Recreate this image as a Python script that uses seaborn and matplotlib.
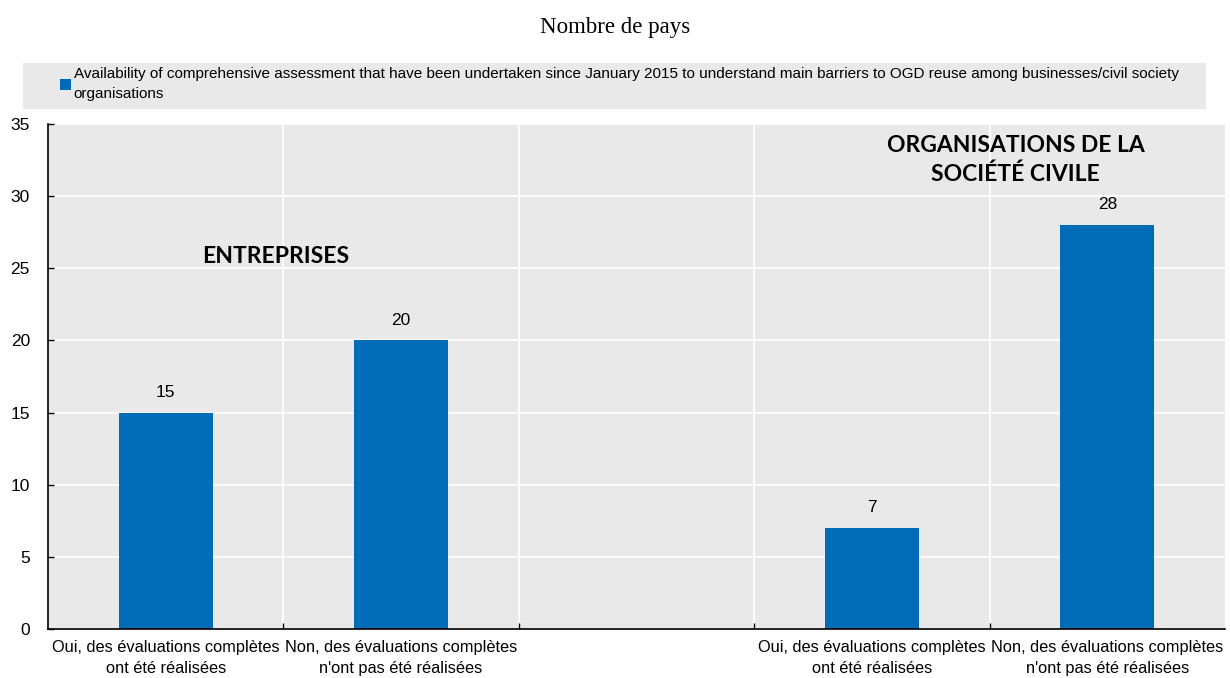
import numpy as np
import pandas as pd
import matplotlib
matplotlib.use("Agg")
import matplotlib.pyplot as plt
from matplotlib.patches import Rectangle
import seaborn as sns

# Data
slots = ["ent_oui", "ent_non", "gap", "soc_oui", "soc_non"]
values = [15, 20, np.nan, 7, 28]
tick_labels = [
    "Oui, des évaluations complètes\nont été réalisées",
    "Non, des évaluations complètes\nn'ont pas été réalisées",
    "",
    "Oui, des évaluations complètes\nont été réalisées",
    "Non, des évaluations complètes\nn'ont pas été réalisées",
]
series_name = ("Availability of comprehensive assessment that have been undertaken since January 2015 "
               "to understand main barriers to OGD reuse among businesses/civil society\norganisations")
group_labels = ["ENTREPRISES", "ORGANISATIONS DE LA\nSOCIÉTÉ CIVILE"]

BLUE = "#006BB6"
BG = "#E9E9E9"
W, H = 1230, 678

sns.set_theme(style="white")
plt.rcParams["font.family"] = ["Liberation Sans", "DejaVu Sans"]

df = pd.DataFrame({"slot": slots, "value": values})

fig = plt.figure(figsize=(W / 100, H / 100), dpi=100)

# Grey band behind the legend
fig.patches.append(Rectangle((23 / W, 1 - 109 / H), (1206 - 23) / W, 46 / H,
                             transform=fig.transFigure, facecolor=BG, edgecolor="none", zorder=-1))

ax = fig.add_axes([48 / W, 1 - 629 / H, 1177 / W, 505 / H])
ax.set_facecolor(BG)

sns.barplot(data=df, x="slot", y="value", order=slots, color=BLUE, width=0.4,
            saturation=1, linewidth=0, ax=ax, label=series_name)

ax.set_xlim(-0.5, 4.5)
ax.set_ylim(0, 35)
ax.set_yticks(range(0, 36, 5))
ax.set_xticks(range(5))
ax.set_xticklabels(tick_labels, fontsize=11.75, color="black", linespacing=1.45)
ax.tick_params(axis="x", which="major", length=0, pad=8)
ax.set_xticks(np.arange(0.5, 4.5, 1), minor=True)
ax.tick_params(axis="x", which="minor", length=4, direction="in", color="black", width=1, bottom=True)
ax.tick_params(axis="y", length=4, direction="in", color="black", width=1, labelsize=12.5,
               labelcolor="black", left=True, pad=13)
ax.set_xlabel("")
ax.set_ylabel("")

# Grid: white horizontal lines and vertical slot separators
for yv in range(5, 36, 5):
    ax.axhline(yv, color="white", lw=1.2, zorder=0.5)
for xv in np.arange(0.5, 4.5, 1):
    ax.axvline(xv, color="white", lw=1.2, zorder=0.5)
ax.set_axisbelow(True)

for side in ["top", "right"]:
    ax.spines[side].set_visible(False)
for side in ["left", "bottom"]:
    ax.spines[side].set_visible(True)
    ax.spines[side].set_color("black")
    ax.spines[side].set_linewidth(1.2)

# Value labels
for i, v in enumerate(values):
    if not np.isnan(v):
        ax.text(i, v + 1.4, f"{v:g}", ha="center", va="center", fontsize=12.5, color="black")

# Group annotations
ax.text(0.466, 25.83, group_labels[0], ha="center", va="center", fontsize=16.5,
        fontweight="bold", family=["Lato", "DejaVu Sans"], color="black")
ax.text(3.61, 32.5, group_labels[1], ha="center", va="center", fontsize=16.5,
        fontweight="bold", family=["Lato", "DejaVu Sans"], color="black", linespacing=1.45)

# Title
fig.text(0.5, 1 - 27 / H, "Nombre de pays", ha="center", va="center", fontsize=16.5,
         family=["Liberation Serif", "DejaVu Serif"], color="black")

# Legend placed over the grey band
leg = ax.legend(loc="upper left", bbox_to_anchor=(60 / W, 1 - 67 / H),
                bbox_transform=fig.transFigure, frameon=False, fontsize=11,
                handlelength=0.75, handleheight=0.75, handletextpad=0.15,
                borderaxespad=0, borderpad=0, labelcolor="black")
for t in leg.get_texts():
    t.set_linespacing(1.55)

fig.savefig("out.png", dpi=100, facecolor="white")
